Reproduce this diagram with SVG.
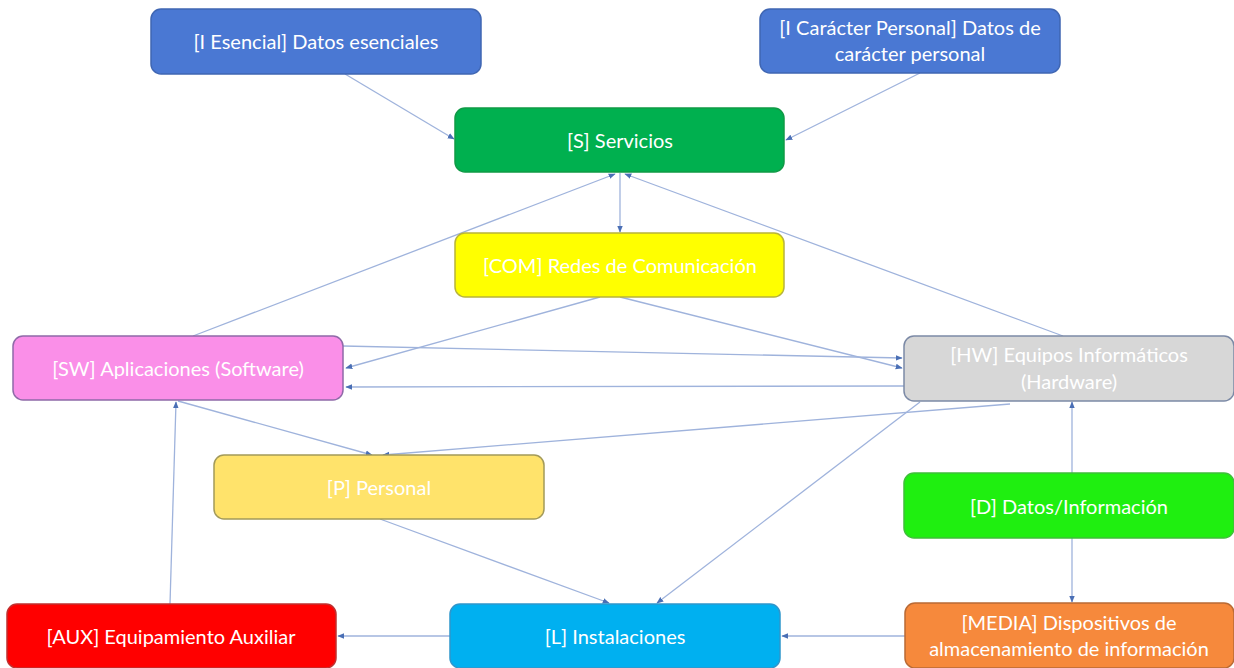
<svg xmlns="http://www.w3.org/2000/svg" width="1234" height="668" viewBox="0 0 1234 668">
<defs>
<marker id="ah" viewBox="0 0 10 10" refX="9" refY="5" markerWidth="7" markerHeight="7" markerUnits="userSpaceOnUse" orient="auto">
<path d="M0,1 L10,5 L0,9 Z" fill="#4a6fb5"/>
</marker>
<style>
.n rect{stroke-width:1.5}
.t{font-family:Lato,"Open Sans","Liberation Sans",sans-serif;font-size:20px;fill:#ffffff;text-anchor:middle}
.c line{stroke:#9fb3dc;stroke-width:1.3;marker-end:url(#ah)}
</style>
</defs>
<rect width="1234" height="668" fill="#ffffff"/>
<g class="c" id="connectors">
<line x1="345" y1="74" x2="454" y2="139"/>
<line x1="920" y1="73" x2="786" y2="140"/>
<line x1="620" y1="173" x2="620" y2="232"/>
<line x1="193" y1="336" x2="615" y2="174"/>
<line x1="1063" y1="336" x2="625" y2="174"/>
<line x1="600" y1="297" x2="346" y2="368"/>
<line x1="620" y1="297" x2="902" y2="368"/>
<line x1="343" y1="346" x2="902" y2="358"/>
<line x1="904" y1="386" x2="346" y2="387"/>
<line x1="178" y1="401" x2="372" y2="455"/>
<line x1="1010" y1="404" x2="383" y2="455"/>
<line x1="170" y1="604" x2="176" y2="402"/>
<line x1="380" y1="519" x2="609" y2="603"/>
<line x1="920" y1="402" x2="657" y2="603"/>
<line x1="1072" y1="473" x2="1072" y2="402"/>
<line x1="1072" y1="538" x2="1072" y2="602"/>
<line x1="905" y1="636" x2="782" y2="636"/>
<line x1="450" y1="636" x2="338" y2="636"/>
</g>
<g class="n" id="n-iesencial">
<rect x="151" y="9" width="330" height="65" rx="10" fill="#4a78d3" stroke="#3f66b3"/>
<text class="t" x="316" y="49">[I Esencial] Datos esenciales</text>
</g>
<g class="n" id="n-icaracter">
<rect x="760" y="9" width="300" height="64" rx="10" fill="#4a78d3" stroke="#3f66b3"/>
<text class="t" x="910" y="35">[I Carácter Personal] Datos de</text>
<text class="t" x="910" y="61">carácter personal</text>
</g>
<g class="n" id="n-s">
<rect x="455" y="108" width="329" height="64" rx="10" fill="#00b04f" stroke="#0f9a46"/>
<text class="t" x="620" y="148">[S] Servicios</text>
</g>
<g class="n" id="n-com">
<rect x="455" y="233" width="329" height="64" rx="10" fill="#ffff00" stroke="#b8b43a"/>
<text class="t" x="620" y="273">[COM] Redes de Comunicación</text>
</g>
<g class="n" id="n-sw">
<rect x="13" y="336" width="330" height="64" rx="10" fill="#fa8fe8" stroke="#8f6aa8"/>
<text class="t" x="178" y="376">[SW] Aplicaciones (Software)</text>
</g>
<g class="n" id="n-hw">
<rect x="904" y="336" width="330" height="65" rx="10" fill="#d7d7d7" stroke="#7c8aa6"/>
<text class="t" x="1069" y="362">[HW] Equipos Informáticos</text>
<text class="t" x="1069" y="389">(Hardware)</text>
</g>
<g class="n" id="n-p">
<rect x="214" y="455" width="330" height="64" rx="10" fill="#ffe36b" stroke="#a39a5a"/>
<text class="t" x="379" y="495">[P] Personal</text>
</g>
<g class="n" id="n-d">
<rect x="904" y="473" width="330" height="65" rx="10" fill="#1fef10" stroke="#3fbf3a"/>
<text class="t" x="1069" y="514">[D] Datos/Información</text>
</g>
<g class="n" id="n-aux">
<rect x="7" y="604" width="329" height="64" rx="10" fill="#ff0000" stroke="#c0302f"/>
<text class="t" x="171" y="644">[AUX] Equipamiento Auxiliar</text>
</g>
<g class="n" id="n-l">
<rect x="450" y="604" width="330" height="64" rx="10" fill="#00b0f0" stroke="#2e96cc"/>
<text class="t" x="615" y="644">[L] Instalaciones</text>
</g>
<g class="n" id="n-media">
<rect x="905" y="603" width="329" height="65" rx="10" fill="#f6893c" stroke="#b96a35"/>
<text class="t" x="1069" y="630">[MEDIA] Dispositivos de</text>
<text class="t" x="1069" y="656">almacenamiento de información</text>
</g>
</svg>
